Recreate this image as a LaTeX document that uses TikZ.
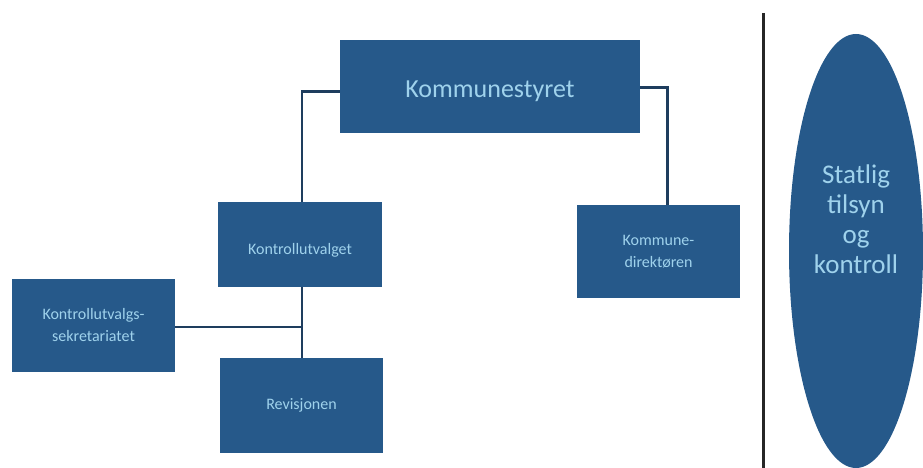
\documentclass[tikz,border=0pt]{standalone}
\usepackage{fontspec}
\setmainfont{Carlito}
\usetikzlibrary{shapes.geometric}
\definecolor{boxblue}{HTML}{26598A}
\definecolor{txtblue}{HTML}{9FD2EC}
\definecolor{linenavy}{HTML}{1E3D5E}
\tikzset{
  orgbox/.style={draw=none, fill=boxblue, text=txtblue, align=center, inner sep=0pt, font=\fontsize{16}{22}\selectfont},
  conn/.style={draw=linenavy, line width=2.5pt},
  bigtext/.style={text=txtblue, align=center, inner sep=0pt, font=\fontsize{27}{30}\selectfont},
}
\begin{document}
\begin{tikzpicture}[x=1pt,y=-1pt]
\useasboundingbox (0,0) rectangle (923,468);
\node[orgbox, minimum width=300pt, minimum height=93pt] (ks) at (490,86.5) {};
\node[bigtext, font=\fontsize{26}{30}\selectfont] (kst) at ([yshift=-5pt]ks.center) {Kommunestyret};
\node[orgbox, minimum width=164pt, minimum height=85pt] (ku) at (300,244.5) {};
\node[orgbox, fill=none] (kut) at ([yshift=-6pt]ku.center) {Kontrollutvalget};
\node[orgbox, minimum width=163pt, minimum height=93pt] (kd) at (658.5,251.5) {Kommune-\\direktøren};
\node[orgbox, minimum width=163pt, minimum height=93pt] (sek) at (93.5,325.5) {Kontrollutvalgs-\\sekretariatet};
\node[orgbox, minimum width=163pt, minimum height=95pt] (rev) at (301.5,405.5) {Revisjonen};
\node[ellipse, fill=boxblue, inner sep=0pt, minimum width=134pt, minimum height=434pt] (st) at (856,251) {};
\node[bigtext] (stt) at ([yshift=32pt]st.center) {Statlig\\tilsyn\\og\\kontroll};
\coordinate (vt) at (763,13);
\coordinate (vb) at (763,468);
\draw[line width=3pt, draw=black!85] (vt) -- (vb);
\draw[conn] ([yshift=-5pt]ks.west) -| ([xshift=2pt]ku.north);
\draw[conn] ([yshift=-1pt]ks.east) -| ([xshift=9pt]kd.north);
\draw[conn] ([xshift=2pt]ku.south) -- ([xshift=0.5pt]rev.north);
\draw[conn] ([yshift=-1.5pt]sek.east) -- ([yshift=-1.5pt]sek.east -| rev.north);
\end{tikzpicture}
\end{document}
